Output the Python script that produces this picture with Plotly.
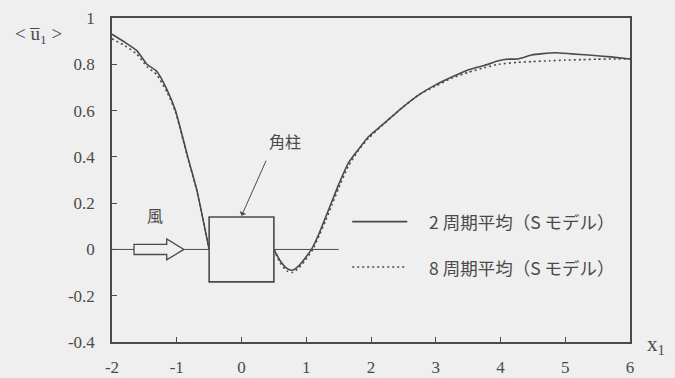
import plotly.graph_objects as go

# Mean streamwise velocity <u1> along the centre line around a square cylinder
x_2cycle = [-2.0, -1.8, -1.62, -1.46, -1.31, -1.15, -1.02, -0.83, -0.69, -0.5, None,
            0.5, 0.6, 0.7, 0.78, 0.88, 0.97, 1.08, 1.2, 1.3, 1.4, 1.5, 1.65, 1.8, 1.96,
            2.17, 2.47, 2.75, 2.99, 3.25, 3.5, 3.75, 3.97, 4.1, 4.27, 4.48, 4.65, 4.84,
            5.1, 5.36, 5.7, 6.0]
u_2cycle = [0.93, 0.895, 0.86, 0.80, 0.77, 0.69, 0.60, 0.40, 0.256, 0.0, None,
            0.0, -0.05, -0.082, -0.09, -0.072, -0.042, 0.0, 0.07, 0.14, 0.21, 0.28, 0.373,
            0.43, 0.487, 0.537, 0.61, 0.67, 0.71, 0.745, 0.775, 0.795, 0.815, 0.822,
            0.823, 0.84, 0.846, 0.85, 0.845, 0.84, 0.832, 0.823]

x_8cycle = [-2.0, -1.8, -1.62, -1.46, -1.31, -1.15, -1.02, -0.83, -0.69, -0.5, None,
            0.5, 0.6, 0.7, 0.78, 0.88, 0.97, 1.1, 1.2, 1.3, 1.4, 1.5, 1.65, 1.8, 1.96,
            2.17, 2.47, 2.75, 2.99, 3.25, 3.5, 3.75, 3.97, 4.25, 4.5, 4.75, 5.0, 5.25,
            5.5, 5.75, 6.0]
u_8cycle = [0.91, 0.88, 0.845, 0.79, 0.755, 0.68, 0.595, 0.395, 0.255, 0.0, None,
            0.0, -0.06, -0.093, -0.10, -0.082, -0.052, 0.0, 0.06, 0.125, 0.195, 0.265,
            0.36, 0.425, 0.48, 0.535, 0.61, 0.67, 0.705, 0.74, 0.765, 0.785, 0.80, 0.808,
            0.812, 0.815, 0.818, 0.82, 0.822, 0.823, 0.823]

x_ticks = [-2, -1, 0, 1, 2, 3, 4, 5, 6]
x_tick_text = ["-2", "-1", "0", "1", "2", "3", "4", "5", "6"]
y_ticks = [-0.4, -0.2, 0, 0.2, 0.4, 0.6, 0.8, 1]
y_tick_text = ["-0.4", "-0.2", "0", "0.2", "0.4", "0.6", "0.8", "1"]

label_2cycle = "2 周期平均（S モデル）"
label_8cycle = "8 周期平均（S モデル）"

# cylinder cross-section and wind arrow geometry (data units)
cyl_x0, cyl_x1, cyl_y0, cyl_y1 = -0.5, 0.5, -0.14, 0.14
arrow_x0, arrow_neck, arrow_tip = -1.66, -1.155, -0.89
arrow_half_body, arrow_half_head = 0.022, 0.045

INK = "#4a4a4a"
BG = "#efefef"
SERIF = "Times New Roman, Liberation Serif, DejaVu Serif, serif"
CJK = "Noto Sans CJK JP"

fig = go.Figure()
fig.add_trace(go.Scatter(x=x_2cycle, y=u_2cycle, mode="lines", name=label_2cycle,
                         line=dict(color=INK, width=1.6, shape="spline", smoothing=0.5),
                         connectgaps=False, showlegend=False))
fig.add_trace(go.Scatter(x=x_8cycle, y=u_8cycle, mode="lines", name=label_8cycle,
                         line=dict(color=INK, width=1.6, dash="2px,3px",
                                   shape="spline", smoothing=0.5),
                         connectgaps=False, showlegend=False))

shapes = []
# zero reference line
shapes.append(dict(type="line", x0=-2, x1=1.5, y0=0, y1=0,
                   line=dict(color=INK, width=1)))
# square cylinder
shapes.append(dict(type="rect", x0=cyl_x0, x1=cyl_x1, y0=cyl_y0, y1=cyl_y1,
                   line=dict(color=INK, width=1.6), fillcolor=BG))
# wind arrow outline
hb, hh = arrow_half_body, arrow_half_head
path = (f"M {arrow_x0},{-hb} L {arrow_neck},{-hb} L {arrow_neck},{-hh} "
        f"L {arrow_tip},0 L {arrow_neck},{hh} L {arrow_neck},{hb} L {arrow_x0},{hb} Z")
shapes.append(dict(type="path", path=path, line=dict(color=INK, width=1.3),
                   fillcolor=BG))
# legend keys
shapes.append(dict(type="line", x0=1.71, x1=2.56, y0=0.12, y1=0.12,
                   line=dict(color=INK, width=1.6)))
shapes.append(dict(type="line", x0=1.71, x1=2.56, y0=-0.076, y1=-0.076,
                   line=dict(color=INK, width=1.6, dash="2px,3px")))

annotations = [
    dict(x=2.86, y=0.12, text=label_2cycle, showarrow=False, xanchor="left",
         font=dict(family=CJK, size=17.5, color=INK)),
    dict(x=2.86, y=-0.076, text=label_8cycle, showarrow=False, xanchor="left",
         font=dict(family=CJK, size=17.5, color=INK)),
    dict(x=-1.34, y=0.15, text="風", showarrow=False,
         font=dict(family=CJK, size=16, color=INK)),
    dict(x=0.67, y=0.47, text="角柱", showarrow=False,
         font=dict(family=CJK, size=16, color=INK)),
    dict(x=0.0, y=0.145, ax=0.39, ay=0.39, axref="x", ayref="y", xref="x", yref="y",
         text="", showarrow=True, arrowhead=1, arrowsize=1.2, arrowwidth=1,
         arrowcolor=INK, standoff=0),
    dict(x=-0.141, y=0.948, xref="paper", yref="paper", xanchor="center",
         yanchor="middle", text="&lt; u\u0305<sub>1</sub> &gt;", showarrow=False,
         font=dict(family=SERIF, size=19, color=INK)),
    dict(x=1.05, y=-0.01, xref="paper", yref="paper", xanchor="center",
         yanchor="middle", text="x<sub>1</sub>", showarrow=False,
         font=dict(family=SERIF, size=21, color=INK)),
]

fig.update_layout(
    width=675, height=378,
    margin=dict(l=112, r=45, t=18, b=36),
    paper_bgcolor=BG, plot_bgcolor=BG,
    shapes=shapes, annotations=annotations,
    xaxis=dict(range=[-2, 6], tickvals=x_ticks, ticktext=x_tick_text,
               ticks="inside", ticklen=5, tickcolor=INK, showgrid=False,
               zeroline=False, showline=True, linecolor=INK, linewidth=1.6,
               mirror=True, tickfont=dict(family=SERIF, size=17, color=INK),
               ticklabelstandoff=9, automargin=False),
    yaxis=dict(range=[-0.4, 1], tickvals=y_ticks, ticktext=y_tick_text,
               ticks="inside", ticklen=5, tickcolor=INK, showgrid=False,
               zeroline=False, showline=True, linecolor=INK, linewidth=1.6,
               mirror=True, tickfont=dict(family=SERIF, size=17, color=INK),
               ticklabelstandoff=12, automargin=False),
)

fig.write_html("out.html")
